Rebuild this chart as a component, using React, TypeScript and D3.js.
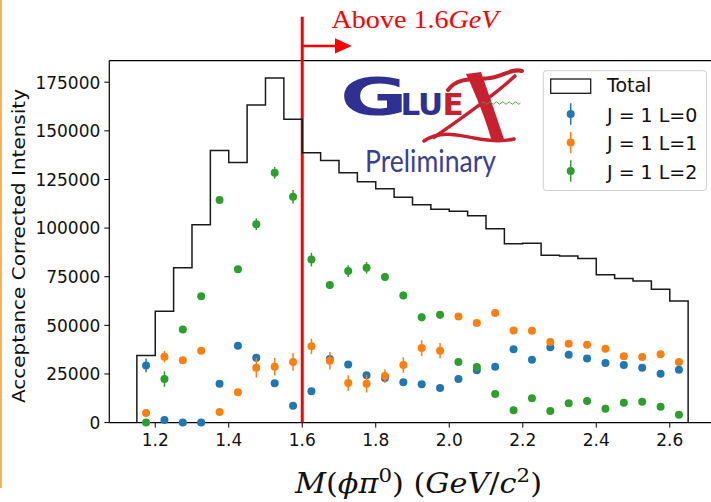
import React from 'react';
import * as d3 from 'd3';

// ---- data ----
const binEdges = [1.15, 1.2, 1.25, 1.3, 1.35, 1.4, 1.45, 1.5, 1.55, 1.6, 1.65, 1.7, 1.75, 1.8, 1.85, 1.9, 1.95, 2.0, 2.05, 2.1, 2.15, 2.2, 2.25, 2.3, 2.35, 2.4, 2.45, 2.5, 2.55, 2.6, 2.65];
const massCenters = [1.175, 1.225, 1.275, 1.325, 1.375, 1.425, 1.475, 1.525, 1.575, 1.625, 1.675, 1.725, 1.775, 1.825, 1.875, 1.925, 1.975, 2.025, 2.075, 2.125, 2.175, 2.225, 2.275, 2.325, 2.375, 2.425, 2.475, 2.525, 2.575, 2.625];
const totalCounts = [34500, 57200, 79600, 101700, 139900, 133700, 163300, 177200, 156000, 138700, 134800, 128400, 123800, 120200, 115800, 112000, 109700, 108600, 106300, 99600, 92000, 92200, 86100, 85600, 84400, 76000, 74100, 72800, 68500, 62500];
const l0Values = [29400, 1300, 0, 0, 20000, 39500, 33300, 20200, 8700, 16100, 32700, 29900, 24300, 22900, 20700, 19700, 17800, 22400, 26900, 28700, 37700, 32300, 38700, 34900, 33000, 30600, 29600, 28200, 25100, 27200];
const l0Errors = [3500, 1000, 500, 500, 1500, 1500, 2000, 1500, 1500, 1500, 2500, 1500, 1500, 1500, 1500, 1500, 1500, 1500, 1500, 1500, 1500, 1500, 1500, 1500, 1500, 1500, 1500, 1500, 1500, 1500];
const l1Values = [4900, 33900, 32000, 36900, 5400, 15600, 28200, 28700, 31100, 39200, 31800, 20300, 20000, 23900, 29600, 38300, 36900, 54600, 51200, 56300, 47400, 47200, 41400, 40500, 40000, 38000, 34100, 33700, 35200, 31100];
const l1Errors = [1500, 3000, 1500, 1500, 1500, 1500, 5000, 4500, 4500, 4000, 4500, 4000, 4500, 3500, 4000, 4000, 4000, 1500, 1500, 1500, 1500, 1500, 1500, 1500, 1500, 1500, 1500, 1500, 1500, 1500];
const l2Values = [0, 22400, 47900, 64900, 114500, 78900, 102000, 128400, 116100, 83800, 70700, 77900, 79600, 74800, 65400, 54100, 55400, 31100, 28600, 14700, 6300, 12500, 6000, 9900, 11100, 7100, 10200, 10700, 8200, 4100];
const l2Errors = [500, 4000, 1500, 1500, 1500, 1500, 3000, 3000, 3500, 3500, 2000, 3000, 3000, 2000, 2000, 2000, 2000, 1500, 1500, 1500, 1500, 1500, 1500, 1500, 1500, 1500, 1500, 1500, 1500, 1500];
const seriesNames = ['J = 1 L=0', 'J = 1 L=1', 'J = 1 L=2'];
const seriesColors = ['#1f77b4', '#ff7f0e', '#2ca02c'];
const xTicks = [1.2, 1.4, 1.6, 1.8, 2.0, 2.2, 2.4, 2.6];
const yTicks = [0, 25000, 50000, 75000, 100000, 125000, 150000, 175000];
const cutMass = 1.6;

const series = [
  { name: seriesNames[0], color: seriesColors[0], values: l0Values, errors: l0Errors },
  { name: seriesNames[1], color: seriesColors[1], values: l1Values, errors: l1Errors },
  { name: seriesNames[2], color: seriesColors[2], values: l2Values, errors: l2Errors },
];

export default function App() {
  const W = 711, H = 502;
  const left = 109.3, right = 715.7, top = 60.7, bottom = 422.6;
  const x = d3.scaleLinear().domain([1.075, 2.725]).range([left, right]);
  const y = d3.scaleLinear().domain([0, d3.max(totalCounts)! * 1.05]).range([bottom, top]);

  const stairPts: [number, number][] = [[binEdges[0], 0]];
  totalCounts.forEach((v, i) => {
    stairPts.push([binEdges[i], v]);
    stairPts.push([binEdges[i + 1], v]);
  });
  stairPts.push([binEdges[binEdges.length - 1], 0]);
  const stairPath = d3.line<[number, number]>().x(d => x(d[0])).y(d => y(d[1]))(stairPts) || '';

  // green wave decoration for logo
  let wave = 'M 482 103';
  for (let i = 0; i < 6; i++) {
    const x0 = 482 + i * 6.4;
    wave += ` Q ${x0 + 1.6} 100.5 ${x0 + 3.2} 103 Q ${x0 + 4.8} 105.5 ${x0 + 6.4} 103`;
  }

  const sans = 'DejaVu Sans, sans-serif';
  const fmtX = d3.format('.1f');
  const fmtY = d3.format('d');

  return (
    <svg width={W} height={H} style={{ position: 'absolute', left: 0, top: 0, background: '#fff' }}>
      <rect x={0} y={0} width={W} height={H} fill="#fff" />
      {/* slide edge */}
      <line x1={1} x2={1} y1={0} y2={488} stroke="#f8b25a" strokeWidth={2} />

      {/* axes spines */}
      <line x1={left} x2={left} y1={top} y2={bottom} stroke="#000" strokeWidth={1.2} />
      <line x1={left} x2={W} y1={top} y2={top} stroke="#000" strokeWidth={1.2} />
      <line x1={left} x2={W} y1={bottom} y2={bottom} stroke="#000" strokeWidth={1.2} />

      {/* x ticks */}
      {xTicks.map(t => (
        <g key={'xt' + t}>
          <line x1={x(t)} x2={x(t)} y1={bottom} y2={bottom + 5} stroke="#000" strokeWidth={1} />
          <text x={x(t)} y={bottom + 23} textAnchor="middle" fontFamily={sans} fontSize={17} fill="#111">{fmtX(t)}</text>
        </g>
      ))}
      {/* y ticks */}
      {yTicks.map(t => (
        <g key={'yt' + t}>
          <line x1={left - 5} x2={left} y1={y(t)} y2={y(t)} stroke="#000" strokeWidth={1} />
          <text x={left - 9} y={y(t) + 6.3} textAnchor="end" fontFamily={sans} fontSize={17} fill="#111">{fmtY(t)}</text>
        </g>
      ))}

      {/* y label */}
      <text transform="translate(25,246) rotate(-90)" textAnchor="middle" fontFamily={sans} fontSize={17.5}
        textLength={314} lengthAdjust="spacingAndGlyphs" fill="#111">Acceptance Corrected Intensity</text>

      {/* x label */}
      <text x={295} y={493} fontFamily="DejaVu Serif, serif" fontSize={27} fill="#111" textLength={247} lengthAdjust="spacingAndGlyphs">
        <tspan fontStyle="italic">M</tspan>
        <tspan>(</tspan>
        <tspan fontStyle="italic">ϕπ</tspan>
        <tspan fontSize={19} dy={-11}>0</tspan>
        <tspan dy={11}>) (</tspan>
        <tspan fontStyle="italic">GeV</tspan>
        <tspan>/</tspan>
        <tspan fontStyle="italic">c</tspan>
        <tspan fontSize={19} dy={-11}>2</tspan>
        <tspan dy={11}>)</tspan>
      </text>

      {/* cut line */}
      <line x1={x(cutMass)} x2={x(cutMass)} y1={16.7} y2={bottom} stroke="#ff0000" strokeWidth={3} />
      <line x1={x(cutMass)} x2={337} y1={46} y2={46} stroke="#ff0000" strokeWidth={2.6} />
      <path d="M 335 38.3 L 351.7 46 L 335 53.5 Z" fill="#ff0000" />
      <text x={331.5} y={27.5} fontFamily="Liberation Serif, serif" fontSize={26} fill="#ff0000" textLength={167} lengthAdjust="spacingAndGlyphs">
        Above 1.6<tspan fontStyle="italic">GeV</tspan>
      </text>

      {/* histogram */}
      <path d={stairPath} fill="none" stroke="#1a1a1a" strokeWidth={1.5} />

      {/* points */}
      {series.map(s => (
        <g key={s.name}>
          {s.values.map((v, i) => (
            <line key={'e' + i} x1={x(massCenters[i])} x2={x(massCenters[i])} y1={y(v - s.errors[i])} y2={y(v + s.errors[i])}
              stroke={s.color} strokeWidth={1.5} />
          ))}
          {s.values.map((v, i) => (
            <circle key={'c' + i} cx={x(massCenters[i])} cy={y(v)} r={4} fill={s.color} />
          ))}
        </g>
      ))}

      {/* GlueX logo */}
      <g>
        <path d="M 466 74 C 476 95, 486 120, 492 142 L 505 142 C 497 118, 488 92, 481 72 Z" fill="#c8202f" />
        <path d="M 448 90 C 458 76, 476 80, 490 78 C 504 76, 512 68, 522 71" fill="none" stroke="#c8202f" strokeWidth={4} strokeLinecap="round" />
        <path d="M 516 75 C 496 94, 462 118, 433 138" fill="none" stroke="#c8202f" strokeWidth={3.5} />
        <path d="M 424 141 C 440 130, 458 135, 474 138 C 490 141, 502 142, 514 139" fill="none" stroke="#c8202f" strokeWidth={3.5} strokeLinecap="round" />
        <path d={wave} fill="none" stroke="#4aa03f" strokeWidth={1} />
        <text transform="translate(340,115) scale(1.62,1)" fontFamily={sans} fontWeight="bold" fontSize={51}
          letterSpacing={-3.5} fill="#2e3192">G</text>
        <text y={115} fontFamily={sans} fontWeight="bold" fontSize={31} letterSpacing={-2.2} fill="#2e3192">
          <tspan x={400.5}>L</tspan>
          <tspan x={418}>U</tspan>
          <tspan x={442.5} fill="#c8202f">E</tspan>
        </text>
        <text x={365} y={171.7} fontFamily="Lato, sans-serif" fontSize={30} fill="#3a3f96" textLength={131} lengthAdjust="spacingAndGlyphs">Preliminary</text>
      </g>

      {/* legend */}
      <g>
        <rect x={543.3} y={70.7} width={163.2} height={119.8} rx={3} fill="#fff" fillOpacity={0.8} stroke="#d0d0d0" strokeWidth={1} />
        <rect x={550.7} y={79} width={40} height={14.3} fill="none" stroke="#1a1a1a" strokeWidth={1.3} />
        <text x={607} y={92.3} fontFamily={sans} fontSize={19} fill="#111">Total</text>
        {series.map((s, i) => {
          const cy = 114 + i * 28.5;
          return (
            <g key={'lg' + s.name}>
              <line x1={570.7} x2={570.7} y1={cy - 10.7} y2={cy + 10.7} stroke={s.color} strokeWidth={1.5} />
              <circle cx={570.7} cy={cy} r={4} fill={s.color} />
              <text x={607} y={cy + 7.8} fontFamily={sans} fontSize={19} fill="#111">{s.name}</text>
            </g>
          );
        })}
      </g>
    </svg>
  );
}
